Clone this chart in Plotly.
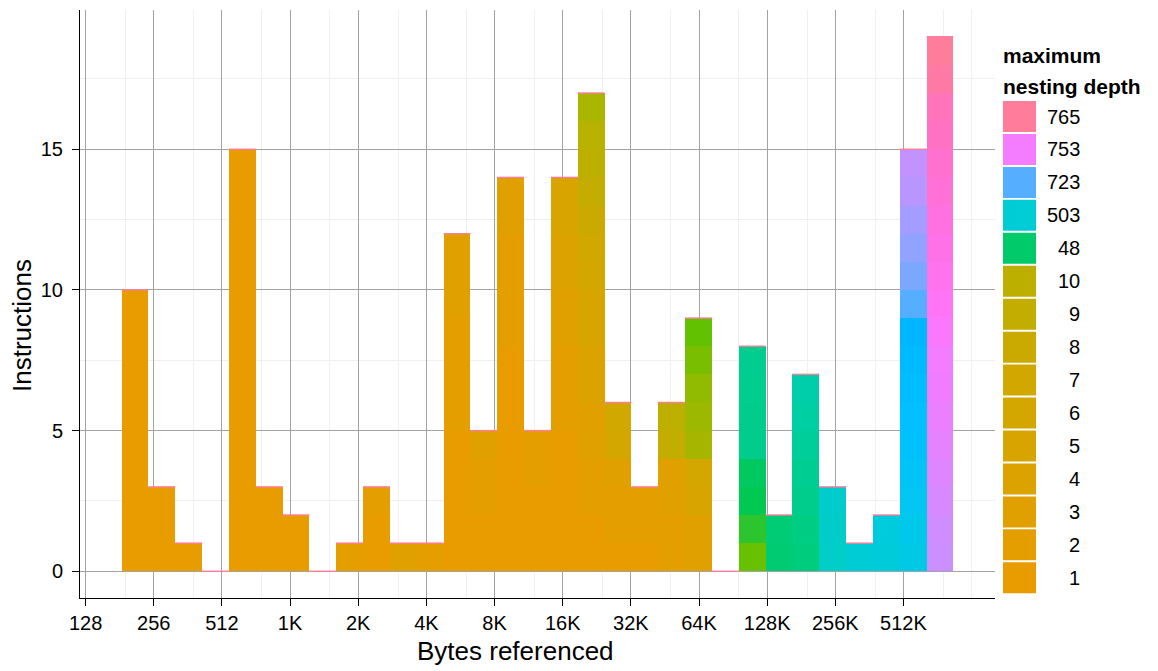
import math
import numpy as np
import plotly.graph_objects as go

# Histogram of bytes referenced per instruction (log2 bins), stacked by each
# instruction's maximum nesting depth.
BIN_START_LOG2 = 7.528
BIN_WIDTH_LOG2 = 0.3937

depths_by_bin = [
    [1] * 10,
    [1] * 3,
    [1],
    [],
    [1] * 15,
    [1] * 3,
    [1] * 2,
    [],
    [2],
    [1, 1, 2],
    [3],
    [2],
    [1, 1, 1, 1, 1, 2, 2, 2, 2, 3, 3, 3],
    [1, 1, 2, 2, 3],
    [1, 1, 1, 1, 1, 1, 1, 1, 2, 2, 2, 2, 3, 3],
    [1, 1, 1, 2, 2],
    [1, 1, 1, 1, 1, 2, 2, 2, 3, 3, 4, 4, 5, 5],
    [1, 1, 2, 2, 3, 3, 4, 4, 5, 5, 6, 7, 8, 9, 10, 12, 16],
    [1, 2, 2, 3, 6, 7],
    [1, 2, 2],
    [2, 2, 3, 3, 9, 10],
    [3, 3, 5, 6, 17, 20, 23, 28, 32],
    [],
    [31, 38, 43, 46, 170, 176, 182, 188],
    [85, 95],
    [118, 144, 170, 197, 232, 267, 302],
    [432, 442, 452],
    [503],
    [512, 520],
    [545, 561, 578, 594, 611, 628, 644, 661, 681, 723, 727, 730, 733, 737, 739],
    [741, 742, 744, 746, 748, 750, 752, 753, 754, 755, 756, 757, 758, 759, 760,
     761, 762, 764, 765],
]

tick_exponents = list(range(7, 20))
tick_labels = ["128", "256", "512", "1K", "2K", "4K", "8K", "16K", "32K",
               "64K", "128K", "256K", "512K"]

legend_breaks = [765, 753, 723, 503, 48, 10, 9, 8, 7, 6, 5, 4, 3, 2, 1]

# hue wheel position (HCL) of selected depths; other depths are interpolated
hue_anchor_depths = [1, 2, 3, 4, 5, 6, 7, 8, 9, 10, 48, 503, 723, 753, 765]
hue_anchor_values = [50, 53, 56, 59, 62, 65, 68, 72, 76, 80, 145, 197, 250, 302, 362]


def hcl_to_hex(h, c=100.0, l=70.0):
    """Polar LUV -> sRGB hex, clipped to gamut."""
    xn, yn, zn = 95.047, 100.0, 108.883
    un = 4 * xn / (xn + 15 * yn + 3 * zn)
    vn = 9 * yn / (xn + 15 * yn + 3 * zn)
    U = c * math.cos(math.radians(h))
    V = c * math.sin(math.radians(h))
    Y = yn * ((l + 16) / 116) ** 3 if l > 8 else yn * l / 903.3
    u = U / (13 * l) + un
    v = V / (13 * l) + vn
    X = 9.0 * Y * u / (4 * v)
    Z = -X / 3 - 5 * Y + 3 * Y / v
    X, Y, Z = X / 100, Y / 100, Z / 100
    r = 3.240479 * X - 1.537150 * Y - 0.498535 * Z
    g = -0.969256 * X + 1.875992 * Y + 0.041556 * Z
    b = 0.055648 * X - 0.204043 * Y + 1.057311 * Z

    def gam(t):
        t = min(max(t, 0.0), 1.0)
        return 12.92 * t if t <= 0.0031308 else 1.055 * t ** (1 / 2.4) - 0.055

    return "#%02X%02X%02X" % tuple(int(round(255 * gam(t))) for t in (r, g, b))


def depth_color(d):
    return hcl_to_hex(float(np.interp(d, hue_anchor_depths, hue_anchor_values)) % 360)


n_bins = len(depths_by_bin)
bin_left = BIN_START_LOG2 + BIN_WIDTH_LOG2 * np.arange(n_bins)
bin_mid = bin_left + BIN_WIDTH_LOG2 / 2
totals = np.array([len(b) for b in depths_by_bin])

fig = go.Figure()

# one stacked layer per depth, lowest depth at the bottom
for d in sorted({d for b in depths_by_bin for d in b}):
    counts = [b.count(d) for b in depths_by_bin]
    fig.add_trace(go.Bar(
        x=bin_mid, y=counts, width=BIN_WIDTH_LOG2,
        marker=dict(color=depth_color(d), line=dict(width=0)),
        showlegend=False, hoverinfo="skip",
    ))

# thin edge of the deepest layer along every bin top
top_x, top_y = [], []
for left, tot in zip(bin_left, totals):
    top_x += [left, left + BIN_WIDTH_LOG2, None]
    top_y += [tot, tot, None]
fig.add_trace(go.Scatter(
    x=top_x, y=top_y, mode="lines",
    line=dict(color=depth_color(765), width=1.4),
    showlegend=False, hoverinfo="skip",
))

W, H = 1158, 671
ML, MR, MT, MB = 80, 163, 10, 73
PW, PH = W - ML - MR, H - MT - MB


def px(x):
    return (x - ML) / PW


def py(y):
    return (H - MB - y) / PH


FONT = "Liberation Sans, Arial, sans-serif"

shapes = []
annotations = []

# legend
key_x0, key_x1 = 1003, 1036
key_top, key_pitch, key_h = 101, 32.95, 31
for i, d in enumerate(legend_breaks):
    y0 = key_top + i * key_pitch
    shapes.append(dict(type="rect", xref="paper", yref="paper",
                       x0=px(key_x0), x1=px(key_x1), y0=py(y0 + key_h), y1=py(y0),
                       fillcolor=depth_color(d), line=dict(width=0), layer="above"))
    annotations.append(dict(text=str(d), xref="paper", yref="paper",
                            x=px(1082), y=py(y0 + key_h / 2), xanchor="right",
                            yanchor="middle", showarrow=False,
                            font=dict(family=FONT, size=20, color="black")))
for txt, yc in (("maximum", 55), ("nesting depth", 87)):
    annotations.append(dict(text="<b>%s</b>" % txt, xref="paper", yref="paper",
                            x=px(1001), y=py(yc), xanchor="left", yanchor="middle",
                            showarrow=False,
                            font=dict(family=FONT, size=21, color="black")))

# axis titles
annotations.append(dict(text="Bytes referenced", xref="paper", yref="paper",
                        x=px(515), y=py(651), xanchor="center", yanchor="middle",
                        showarrow=False, font=dict(family=FONT, size=26, color="black")))
annotations.append(dict(text="Instructions", xref="paper", yref="paper",
                        x=px(22), y=py(326), xanchor="center", yanchor="middle",
                        textangle=-90, showarrow=False,
                        font=dict(family=FONT, size=26, color="black")))

minor_x = [k + math.log2(1.5) for k in range(6, 20)] + [20]

fig.update_layout(
    width=W, height=H,
    margin=dict(l=ML, r=MR, t=MT, b=MB),
    paper_bgcolor="white", plot_bgcolor="white",
    barmode="stack", bargap=0,
    shapes=shapes, annotations=annotations,
    font=dict(family=FONT, size=20, color="black"),
    xaxis=dict(
        range=[6.918, 20.343], tickmode="array",
        tickvals=tick_exponents, ticktext=tick_labels,
        showgrid=True, gridcolor="#A3A3A3", gridwidth=1.2,
        minor=dict(tickvals=minor_x, showgrid=True, gridcolor="#F0F0F0", gridwidth=1, ticks=""),
        zeroline=False, showline=True, linecolor="black", linewidth=1,
        ticks="outside", ticklen=7, tickcolor="black", tickwidth=1,
        tickfont=dict(family=FONT, size=20, color="black"),
    ),
    yaxis=dict(
        range=[-0.95, 19.95], tickmode="array", tickvals=[0, 5, 10, 15],
        showgrid=True, gridcolor="#A3A3A3", gridwidth=1.2,
        minor=dict(tickvals=[2.5, 7.5, 12.5, 17.5], showgrid=True,
                   gridcolor="#F0F0F0", gridwidth=1, ticks=""),
        zeroline=False, showline=True, linecolor="black", linewidth=1,
        ticks="outside", ticklen=7, tickcolor="black", tickwidth=1,
        ticklabelstandoff=5,
        tickfont=dict(family=FONT, size=20, color="black"),
    ),
)

fig.write_html("out.html")
